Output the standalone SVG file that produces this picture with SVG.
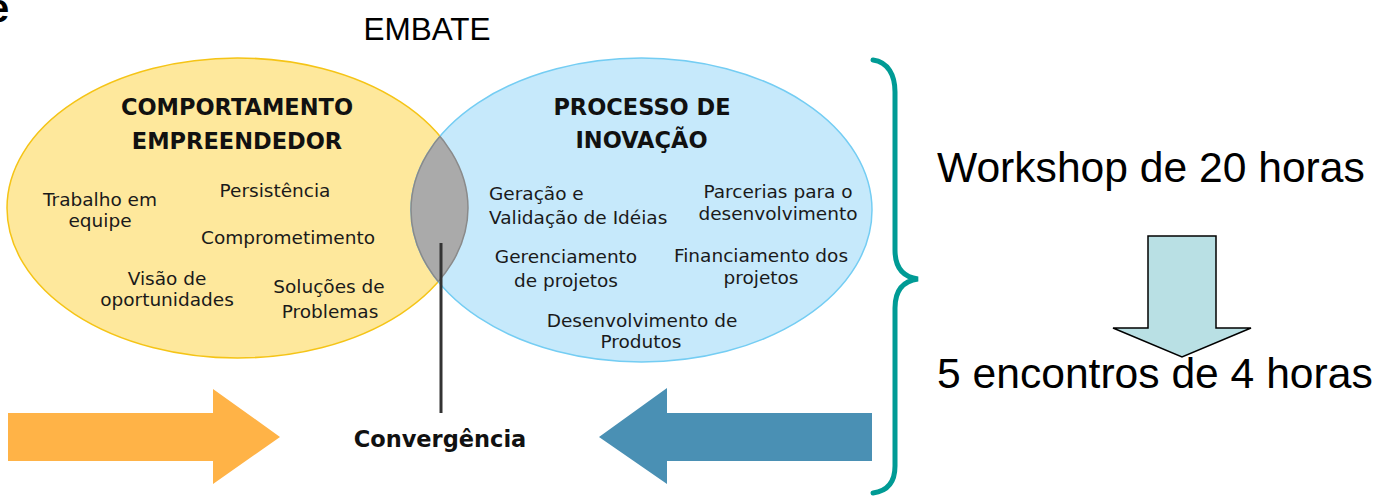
<svg xmlns="http://www.w3.org/2000/svg" width="1375" height="498" viewBox="0 0 1375 498">
<style>
.t{font-family:"DejaVu Sans",Verdana,sans-serif;font-size:18.5px;fill:#1a1a1a;text-anchor:middle}
.s{text-anchor:start}
.h{font-family:"DejaVu Sans",Verdana,sans-serif;font-size:22.5px;font-weight:bold;fill:#111;text-anchor:middle}
.a{font-family:"Liberation Sans",Arial,sans-serif;fill:#000}
</style>
<defs>
<clipPath id="clipY"><ellipse cx="237.5" cy="208" rx="230.5" ry="150"/></clipPath>
<clipPath id="clipB"><ellipse cx="641.5" cy="210" rx="230.5" ry="152"/></clipPath>
</defs>
<rect width="1375" height="498" fill="#fff"/>
<text class="a" x="-13" y="22" font-size="40" font-weight="bold">e</text>
<text class="a" x="427" y="40" font-size="31.5" text-anchor="middle">EMBATE</text>

<g id="comportamento">
<ellipse cx="237.5" cy="208" rx="230.5" ry="150" fill="#fee89c" stroke="#f5c416" stroke-width="1.5"/>
</g>
<g id="processo">
<ellipse cx="641.5" cy="210" rx="230.5" ry="152" fill="#c6e9fb" stroke="#74cdf3" stroke-width="1.5"/>
</g>
<g id="convergencia-area">
<ellipse cx="641.5" cy="210" rx="230.5" ry="152" fill="#aaaaaa" stroke="#8a8a8a" stroke-width="1.5" clip-path="url(#clipY)"/>
<ellipse cx="237.5" cy="208" rx="230.5" ry="150" fill="none" stroke="#8a8a8a" stroke-width="1.5" clip-path="url(#clipB)"/>
</g>

<g id="comportamento-text">
<text class="h" x="237" y="115">COMPORTAMENTO</text>
<text class="h" x="237" y="149">EMPREENDEDOR</text>
<text class="t" x="100" y="206">Trabalho em</text>
<text class="t" x="100" y="227">equipe</text>
<text class="t" x="275" y="197">Persistência</text>
<text class="t" x="288" y="244">Comprometimento</text>
<text class="t" x="167" y="285">Visão de</text>
<text class="t" x="167" y="306">oportunidades</text>
<text class="t" x="329" y="293">Soluções de</text>
<text class="t" x="330" y="318">Problemas</text>
</g>

<g id="processo-text">
<text class="h" x="642" y="115">PROCESSO DE</text>
<text class="h" x="641.5" y="148">INOVAÇÃO</text>
<text class="t s" x="489" y="200">Geração e</text>
<text class="t s" x="489" y="224">Validação de Idéias</text>
<text class="t" x="778" y="198">Parcerias para o</text>
<text class="t" x="778" y="220">desenvolvimento</text>
<text class="t" x="566" y="263">Gerenciamento</text>
<text class="t" x="566" y="287">de projetos</text>
<text class="t" x="761" y="262">Financiamento dos</text>
<text class="t" x="761" y="284">projetos</text>
<text class="t" x="642" y="327">Desenvolvimento de</text>
<text class="t" x="641" y="348">Produtos</text>
</g>

<g id="connectors">
<line x1="441" y1="243" x2="441" y2="413" stroke="#333" stroke-width="3"/>
<path d="M873,60 C888,62 895,75 895,92 L895,250 C895,268 903,277 918,279 C903,281 895,290 895,308 L895,466 C895,482 888,491 873,493" fill="none" stroke="#009b95" stroke-width="5" stroke-linecap="round"/>
</g>

<g id="seta-laranja">
<polygon points="8,413 213,413 213,389 280,437 213,484 213,461 8,461" fill="#ffb347"/>
</g>
<g id="seta-azul">
<polygon points="872,413 667,413 667,388 599,437 667,484 667,461 872,461" fill="#4a90b4"/>
</g>
<g id="convergencia">
<text class="h" x="440" y="447" font-size="21">Convergência</text>
</g>

<g id="workshop">
<text class="a" x="937" y="182" font-size="42.6">Workshop de 20 horas</text>
</g>
<g id="seta-baixo">
<polygon points="1148,236 1216,236 1216,328 1251,328 1182,357 1113,328 1148,328" fill="#b9e0e4" stroke="#000" stroke-width="1.5"/>
</g>
<g id="encontros">
<text class="a" x="937" y="388" font-size="42.6">5 encontros de 4 horas</text>
</g>
</svg>
